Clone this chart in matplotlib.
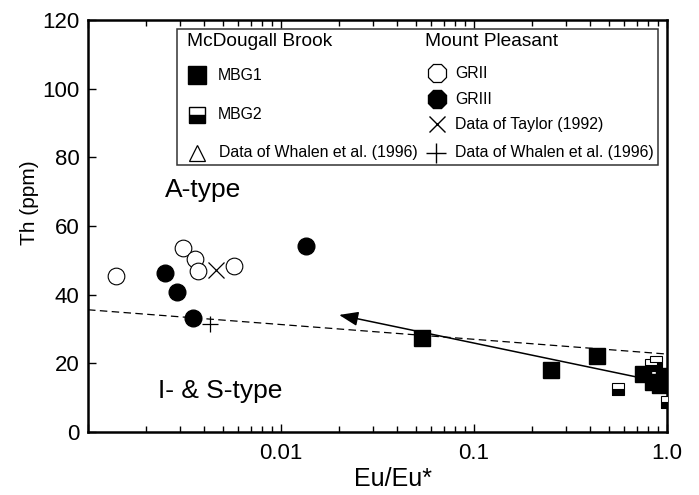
import matplotlib
matplotlib.use("Agg")
import matplotlib.pyplot as plt
from matplotlib.lines import Line2D
from matplotlib.patches import Rectangle

plt.rcParams['font.family'] = ['Liberation Sans', 'DejaVu Sans']

# ---- data ----
gr2_x = [0.0014, 0.0031, 0.0036, 0.0037, 0.0057]
gr2_y = [45.4, 53.6, 50.4, 46.9, 48.4]
gr3_x = [0.0025, 0.0029, 0.0035, 0.0135]
gr3_y = [46.2, 40.8, 33.1, 54.2]
taylor_x = [0.0046]
taylor_y = [47.2]
whalen_mp_x = [0.0043]
whalen_mp_y = [31.5]
mbg1_x = [0.054, 0.252, 0.436, 0.755, 0.964, 0.851, 0.925]
mbg1_y = [27.5, 18.1, 22.0, 17.0, 16.2, 14.7, 13.8]
mbg2_x = [0.555, 0.83, 0.88, 1.0]
mbg2_y = [12.4, 19.5, 20.5, 8.7]
dash_x = [0.001, 1.0]
dash_y = [35.6, 22.7]
arrow_start = (0.92, 14.6)
arrow_end = (0.020, 34.1)

xticks = [0.001, 0.01, 0.1, 1.0]
xticklabels = ['', '0.01', '0.1', '1.0']
yticks = [0, 20, 40, 60, 80, 100, 120]

W, H = 699, 495
fig = plt.figure(figsize=(W / 100, H / 100), dpi=100)
ax = fig.add_axes([88 / W, 1 - 432 / H, (667 - 88) / W, (432 - 20) / H])

ax.set_xscale('log')
ax.set_xlim(0.001, 1.0)
ax.set_ylim(0, 120)

# trend lines
ax.plot(dash_x, dash_y, color='black', lw=0.9, dashes=(6, 3.5), zorder=2)
ax.annotate('', xy=arrow_end, xytext=arrow_start,
            arrowprops=dict(arrowstyle='-|>,head_length=0.4,head_width=0.15',
                            color='black', lw=1.1, mutation_scale=29,
                            shrinkA=0, shrinkB=0), zorder=3)

# data
ax.plot(mbg2_x, mbg2_y, ls='none', marker='s', ms=8.6, mec='black', mew=0.8,
        mfc='black', mfcalt='white', fillstyle='bottom', zorder=3)
ax.plot(mbg1_x, mbg1_y, ls='none', marker='s', ms=12, mec='black', mfc='black', zorder=4)
ax.plot(gr2_x, gr2_y, ls='none', marker='o', ms=12, mec='black', mfc='white', mew=0.8, zorder=4)
ax.plot(gr3_x, gr3_y, ls='none', marker='o', ms=12, mec='black', mfc='black', zorder=4)
ax.plot(taylor_x, taylor_y, ls='none', marker='x', ms=12, mec='black', mew=0.9, zorder=4)
ax.plot(whalen_mp_x, whalen_mp_y, ls='none', marker='+', ms=11, mec='black', mew=0.9, zorder=4)

ax.text(0.0025, 70.5, 'A-type', fontsize=19, va='center', ha='left')
ax.text(0.00231, 11.9, 'I- & S-type', fontsize=19, va='center', ha='left')

# axes styling
for s in ax.spines.values():
    s.set_linewidth(1.8)
ax.set_xticks(xticks)
ax.set_xticklabels(xticklabels)
ax.set_yticks(yticks)
ax.tick_params(axis='x', which='both', direction='in', top=True, labelsize=16, pad=8)
ax.tick_params(axis='x', which='major', length=6, width=1)
ax.tick_params(axis='x', which='minor', length=4, width=1)
ax.tick_params(axis='y', which='major', direction='in', length=6, width=1, labelsize=16, pad=6)
ax.set_xlabel('Eu/Eu*', fontsize=18)
ax.set_ylabel('Th (ppm)', fontsize=15)
ax.xaxis.set_label_coords((393 - 88) / 579, (432 - 467) / 412)
ax.yaxis.set_label_coords((39 - 88) / 579, (432 - 203) / 412)


def P(x, y):
    return (x / W, 1 - y / H)


# manual legend box
fig.add_artist(Rectangle(P(177, 165), (658 - 177) / W, (165 - 29) / H,
                         transform=fig.transFigure, fill=True, fc='white',
                         ec='#333333', lw=1.1, zorder=5))


def lmark(x, y, **kw):
    fx, fy = P(x, y)
    fig.add_artist(Line2D([fx], [fy], transform=fig.transFigure, ls='none', zorder=6, **kw))


def ltext(x, y, s, size=11.4):
    fx, fy = P(x, y)
    fig.text(fx, fy, s, fontsize=size, va='center', ha='left', zorder=6)


ltext(187, 41, 'McDougall Brook', 13.8)
ltext(425, 41, 'Mount Pleasant', 13.8)
lmark(197, 75, marker='s', ms=13, mfc='black', mec='black')
ltext(218, 75, 'MBG1')
lmark(197, 115, marker='s', ms=12, mfc='black', mfcalt='white', fillstyle='bottom', mec='black', mew=1)
ltext(218, 115, 'MBG2')
lmark(197, 153, marker='^', ms=12, mfc='white', mec='black', mew=0.9)
ltext(219, 153, 'Data of Whalen et al. (1996)')
lmark(437, 73, marker='8', ms=14, mfc='white', mec='black', mew=0.9)
ltext(455, 73, 'GRII')
lmark(437, 99, marker='8', ms=14, mfc='black', mec='black')
ltext(455, 99, 'GRIII')
lmark(437, 124, marker='x', ms=12, mec='black', mew=1)
ltext(455, 124, 'Data of Taylor (1992)')
lmark(436, 153, marker='+', ms=14, mec='black', mew=1)
ltext(455, 153, 'Data of Whalen et al. (1996)')

fig.savefig('out.png', dpi=100)
